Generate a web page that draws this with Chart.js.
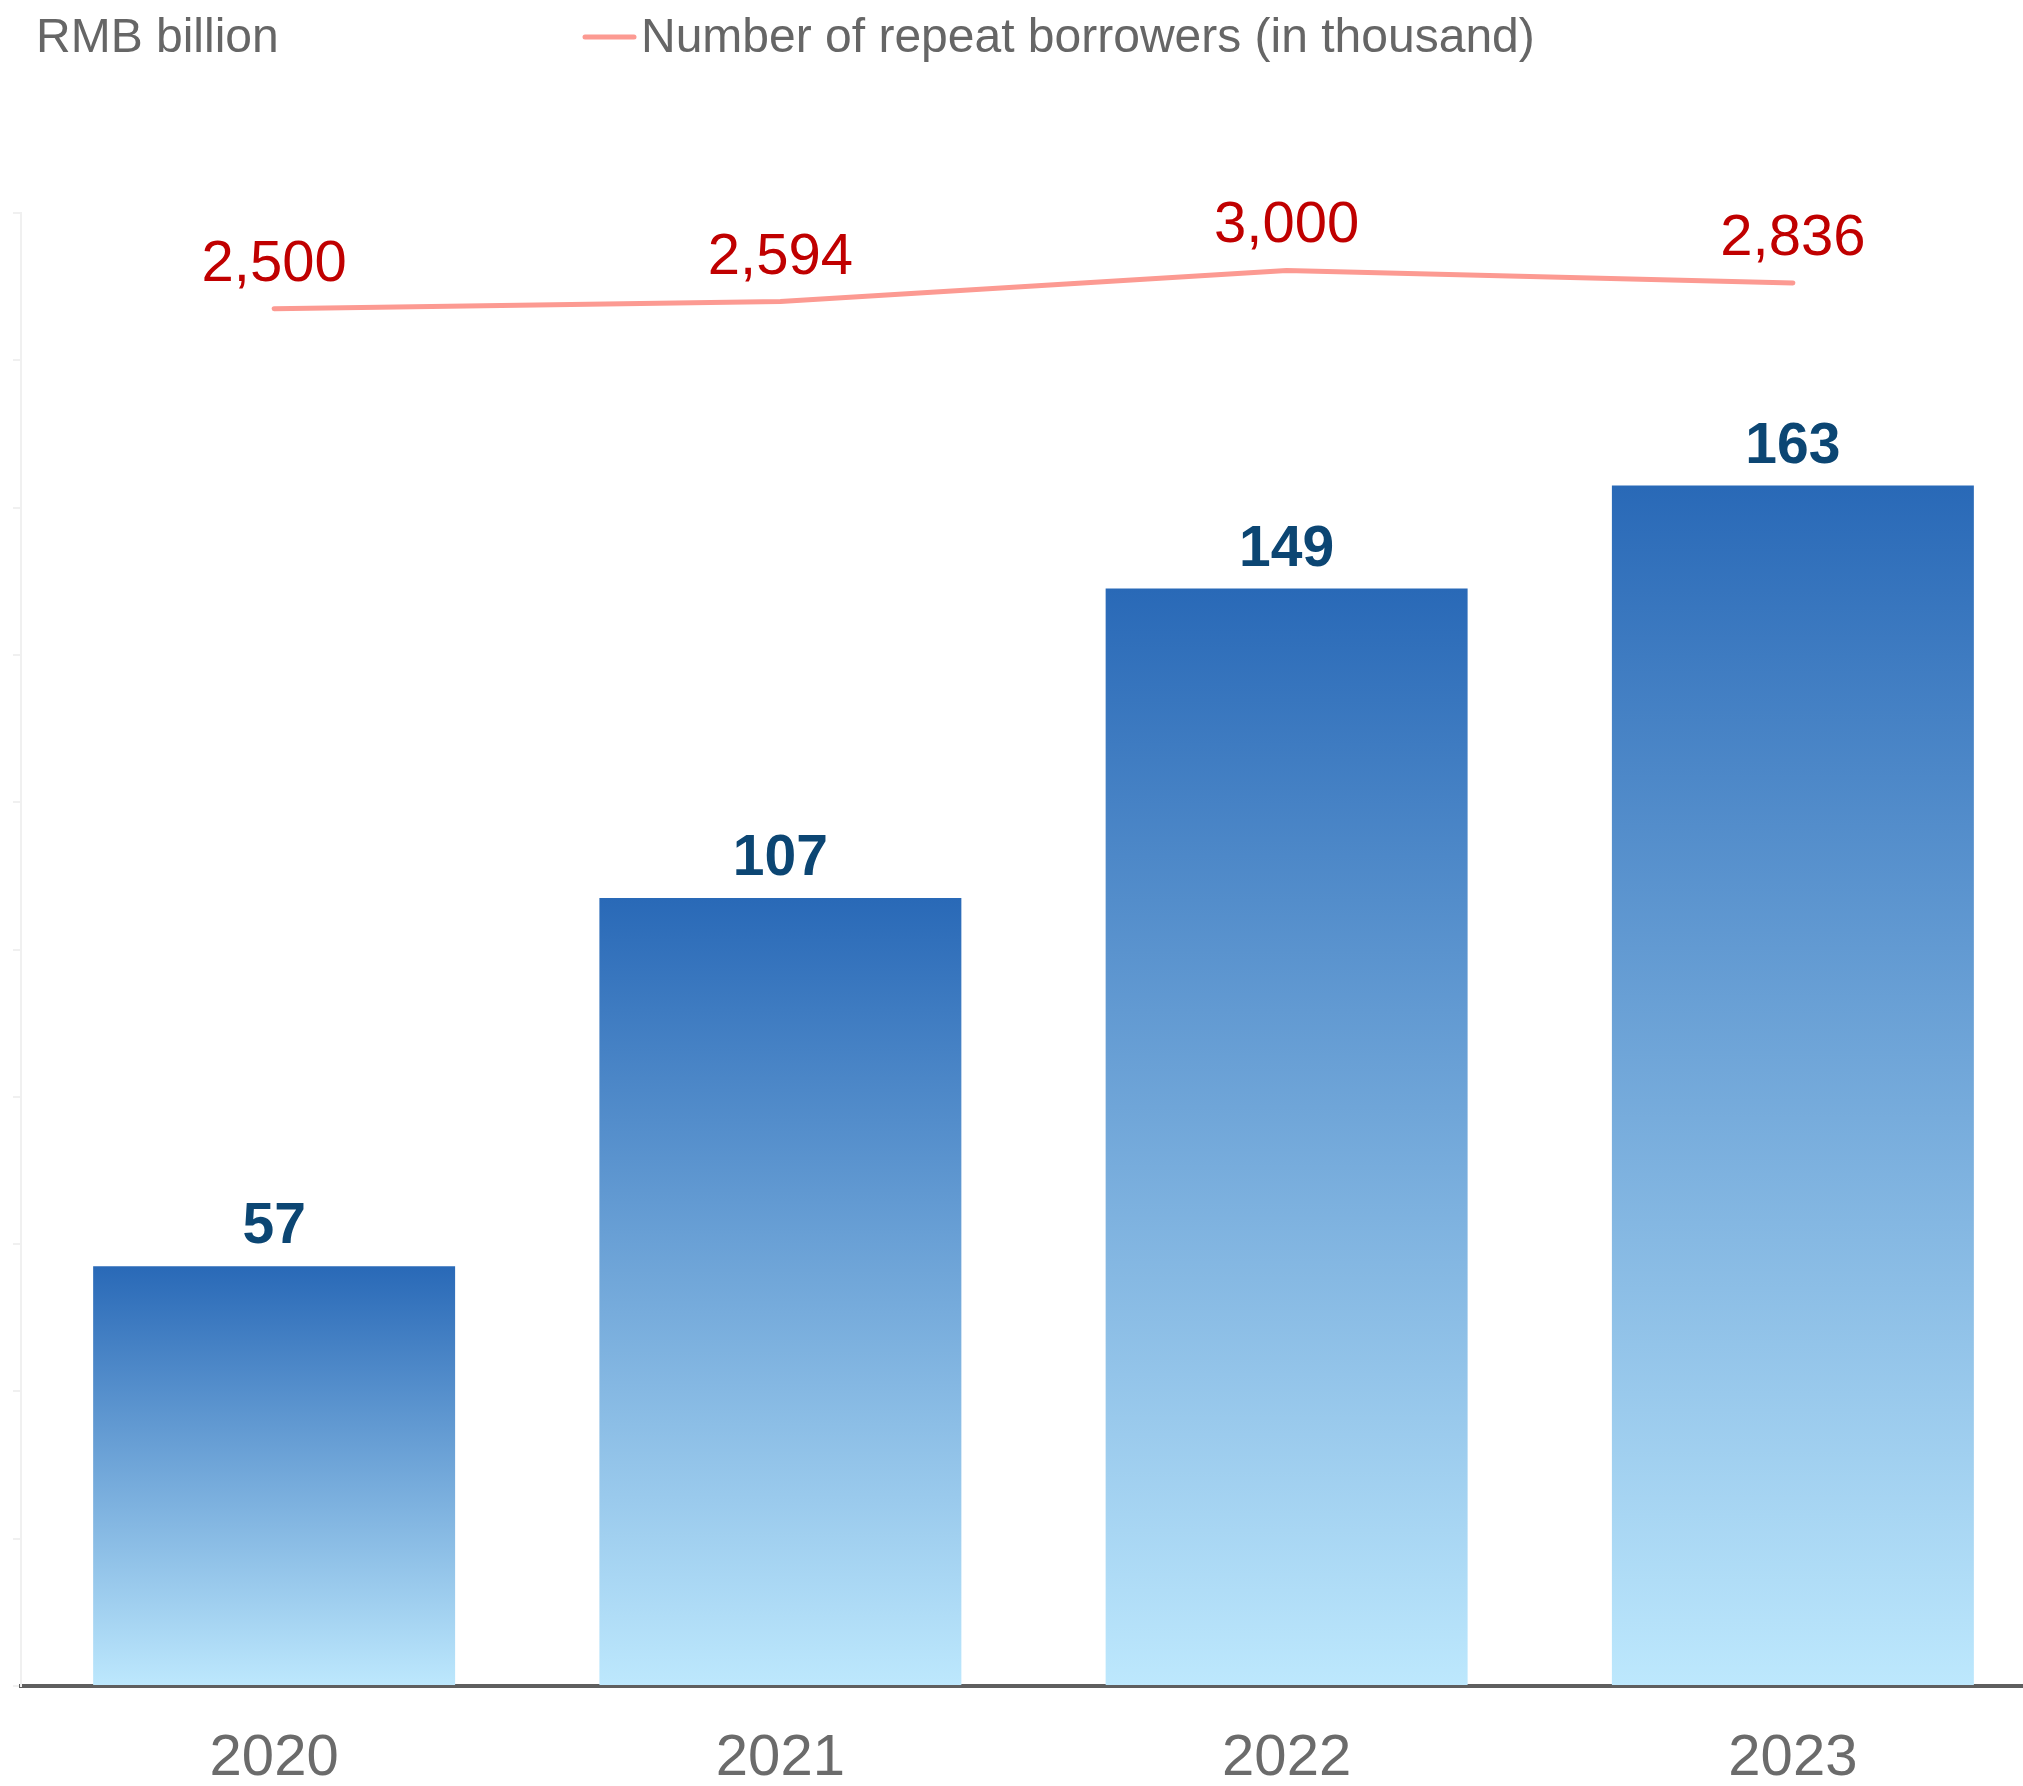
<!DOCTYPE html>
<html>
<head>
<meta charset="utf-8">
<script src="https://cdn.jsdelivr.net/npm/chart.js@4.4.1/dist/chart.umd.min.js"></script>
<style>
  html, body { margin: 0; padding: 0; background: #ffffff; overflow: hidden; }
  #wrap { width: 2046px; height: 1786px; }
</style>
</head>
<body>
<div id="wrap"><canvas id="c" width="2046" height="1786"></canvas></div>
<script>
// Loan volume (RMB billion) and repeat borrowers (thousand), by year
const years = ['2020', '2021', '2022', '2023'];
const loanVolume = [57, 107, 149, 163];
const repeatBorrowers = [2500, 2594, 3000, 2836];
const unitLabel = 'RMB billion';
const lineLabel = 'Number of repeat borrowers (in thousand)';

const FONT = "'Liberation Sans', Arial, sans-serif";
const LINE_COLOR = '#fc9a92';
const BAR_TOP = '#2969b7';
const BAR_BOTTOM = '#bde8fd';

// each bar gets its own top-to-base gradient
function barFill(ctx) {
  const chart = ctx.chart;
  if (!chart.chartArea) return BAR_TOP;
  const y = chart.scales.y;
  const top = y.getPixelForValue(ctx.raw);
  const base = y.getPixelForValue(0);
  const g = chart.ctx.createLinearGradient(0, top, 0, base);
  g.addColorStop(0, BAR_TOP);
  g.addColorStop(1, BAR_BOTTOM);
  return g;
}

const labelsPlugin = {
  id: 'valueLabels',
  afterDatasetsDraw(chart) {
    const c = chart.ctx;
    c.save();
    c.textAlign = 'center';
    c.textBaseline = 'alphabetic';
    // bar values
    const barMeta = chart.getDatasetMeta(0);
    c.font = 'bold 57px ' + FONT;
    c.fillStyle = '#0c4673';
    barMeta.data.forEach((el, i) => {
      c.fillText(String(loanVolume[i]), el.x, el.y - 23);
    });
    // line values
    const lineMeta = chart.getDatasetMeta(1);
    c.font = '58px ' + FONT;
    c.fillStyle = '#c00000';
    lineMeta.data.forEach((el, i) => {
      c.fillText(repeatBorrowers[i].toLocaleString('en-US'), el.x, el.y - 28);
    });
    c.restore();
  }
};

const headerPlugin = {
  id: 'header',
  afterDraw(chart) {
    const c = chart.ctx;
    c.save();
    c.font = '48px ' + FONT;
    c.fillStyle = '#666666';
    c.textAlign = 'left';
    c.textBaseline = 'alphabetic';
    c.fillText(unitLabel, 36, 52);
    // legend entry for the line series
    c.strokeStyle = LINE_COLOR;
    c.lineWidth = 5;
    c.lineCap = 'round';
    c.beginPath();
    c.moveTo(585, 37);
    c.lineTo(634, 37);
    c.stroke();
    c.fillText(lineLabel, 641, 52);
    c.restore();
  }
};

new Chart(document.getElementById('c'), {
  data: {
    labels: years,
    datasets: [
      {
        type: 'bar',
        label: unitLabel,
        data: loanVolume,
        yAxisID: 'y',
        backgroundColor: barFill,
        borderWidth: 0,
        categoryPercentage: 1,
        barPercentage: 0.715,
        order: 2
      },
      {
        type: 'line',
        label: lineLabel,
        data: repeatBorrowers,
        yAxisID: 'y1',
        borderColor: LINE_COLOR,
        borderWidth: 5,
        borderCapStyle: 'round',
        borderJoinStyle: 'round',
        pointRadius: 0,
        tension: 0,
        fill: false,
        clip: false,
        order: 1
      }
    ]
  },
  options: {
    responsive: false,
    animation: false,
    devicePixelRatio: 1,
    layout: { padding: { top: 213, left: 13, right: 0, bottom: 0 } },
    plugins: {
      legend: { display: false },
      title: { display: false },
      tooltip: { enabled: false }
    },
    scales: {
      x: {
        grid: { display: false, drawTicks: false },
        border: { display: true, color: '#5f5f5f', width: 4 },
        ticks: {
          color: '#6b6b6b',
          padding: 44,
          font: { family: FONT, size: 58, lineHeight: 1 }
        },
        afterFit(scale) { scale.height = 100; }
      },
      y: {
        min: 0,
        max: 200,
        ticks: { display: false, stepSize: 20 },
        grid: {
          drawOnChartArea: false,
          drawTicks: true,
          tickLength: 8,
          color: '#f0f0f0',
          lineWidth: 2
        },
        border: { display: true, color: '#f0f0f0', width: 2 }
      },
      y1: {
        display: false,
        min: -15480,
        max: 3750
      }
    }
  },
  plugins: [labelsPlugin, headerPlugin]
});
</script>
</body>
</html>
